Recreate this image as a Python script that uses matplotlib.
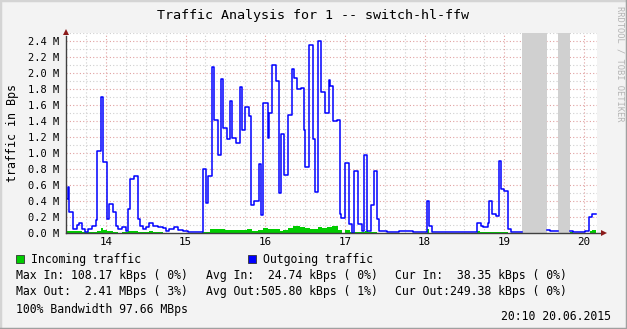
import numpy as np
import matplotlib
matplotlib.use("Agg")
import matplotlib.pyplot as plt
from matplotlib.lines import Line2D
from matplotlib.patches import Rectangle

# outgoing traffic: step edges (hours of day) and values (MBps), nan = unknown
out_t = [13.508, 13.521, 13.542, 13.584, 13.634, 13.667, 13.697, 13.738, 13.780, 13.822,
         13.872, 13.893, 13.935, 13.960, 14.010, 14.044, 14.086, 14.127, 14.157, 14.198,
         14.249, 14.282, 14.303, 14.357, 14.399, 14.428, 14.470, 14.500, 14.541, 14.596,
         14.658, 14.713, 14.751, 14.797, 14.855, 14.909, 14.972, 15.035, 15.213, 15.257,
         15.286, 15.328, 15.361, 15.411, 15.441, 15.474, 15.516, 15.558, 15.587, 15.629,
         15.679, 15.712, 15.742, 15.792, 15.825, 15.863, 15.917, 15.942, 15.976, 16.030,
         16.051, 16.089, 16.135, 16.177, 16.202, 16.240, 16.290, 16.332, 16.357, 16.402,
         16.449, 16.482, 16.503, 16.553, 16.595, 16.620, 16.666, 16.704, 16.745, 16.796,
         16.817, 16.854, 16.904, 16.942, 16.955, 17.005, 17.047, 17.093, 17.118, 17.164,
         17.210, 17.243, 17.281, 17.323, 17.364, 17.398, 17.431, 17.523, 17.674, 17.858,
         18.025, 18.050, 18.088, 18.661, 18.703, 18.736, 18.791, 18.812, 18.849, 18.895,
         18.937, 18.962, 19.000, 19.050, 19.088, 19.221, 19.535, 19.569, 19.615, 19.673,
         19.824, 19.866, 20.016, 20.066, 20.096, 20.146]
out_v = [0.43, 0.57, 0.26, 0.05, 0.10, 0.12, 0.05, 0.01, 0.05, 0.09,
         0.16, 1.02, 1.70, 0.89, 0.17, 0.36, 0.26, 0.09, 0.05, 0.07,
         0.03, 0.30, 0.68, 0.71, 0.17, 0.09, 0.05, 0.08, 0.13, 0.09,
         0.08, 0.06, 0.03, 0.05, 0.07, 0.04, 0.02, 0.01, 0.80, 0.37,
         0.71, 2.07, 1.41, 0.97, 1.92, 1.31, 1.17, 1.65, 1.19, 1.13,
         1.83, 1.29, 1.57, 1.46, 0.35, 0.40, 0.86, 0.22, 1.63, 1.19,
         1.50, 2.10, 1.90, 0.50, 1.24, 0.73, 1.48, 2.05, 1.94, 1.80,
         1.81, 1.29, 0.83, 2.35, 1.18, 0.51, 2.40, 1.76, 1.50, 1.91,
         1.84, 1.40, 1.41, 0.24, 0.19, 0.88, 0.11, 0.00, 0.77, 0.11,
         0.02, 0.97, 0.02, 0.35, 0.78, 0.17, 0.03, 0.01, 0.02, 0.01,
         0.40, 0.09, 0.01, 0.12, 0.09, 0.07, 0.13, 0.40, 0.24, 0.21,
         0.90, 0.55, 0.53, 0.05, 0.01, np.nan, 0.04, 0.03, 0.02, np.nan,
         0.02, 0.01, 0.02, 0.20, 0.24]

# incoming traffic
in_t = [13.508, 13.584, 13.697, 13.893, 13.935, 13.960, 14.010, 14.086, 14.157, 14.198,
        14.282, 14.399, 14.541, 14.596, 14.713, 15.211, 15.306, 15.369, 15.432, 15.495,
        15.557, 15.767, 15.829, 15.913, 15.976, 16.038, 16.185, 16.227, 16.289, 16.352,
        16.436, 16.498, 16.561, 16.666, 16.708, 16.770, 16.833, 16.917, 16.959, 17.000,
        17.063, 17.105, 17.251, 17.293, 17.356, 17.398, 18.025, 18.051, 18.661, 18.695,
        18.799, 18.862, 19.050, 19.221, 19.535, 19.673, 19.824, 19.866, 20.075, 20.096,
        20.146]
in_v = [0.025, 0.02, 0.01, 0.03, 0.067, 0.042, 0.025, 0.012, 0.003, 0.01,
        0.02, 0.012, 0.02, 0.01, 0.003, 0.012, 0.054, 0.046, 0.054, 0.038,
        0.038, 0.046, 0.025, 0.033, 0.058, 0.054, 0.025, 0.038, 0.058, 0.092,
        0.079, 0.067, 0.046, 0.07, 0.058, 0.075, 0.092, 0.033, 0.0, 0.033,
        0.01, 0.008, 0.02, 0.008, 0.017, 0.0, 0.05, 0.0, 0.02, 0.012,
        0.018, 0.012, 0.0, np.nan, 0.0, np.nan, 0.01, 0.0, 0.03, 0.038]

y_ticks = [0.0, 0.2, 0.4, 0.6, 0.8, 1.0, 1.2, 1.4, 1.6, 1.8, 2.0, 2.2, 2.4]
x_ticks = [14, 15, 16, 17, 18, 19, 20]

W, H = 627, 329
def fx(x): return x / W
def fy(y): return 1 - y / H

plt.rcParams['font.family'] = ['DejaVu Sans Mono']
fig = plt.figure(figsize=(W / 100, H / 100), dpi=100, facecolor='#f3f3f3')

ax = fig.add_axes([fx(66), fy(233), fx(597) - fx(66), fy(33) - fy(233)])
ax.set_facecolor('white')
ax.set_xlim(13.5, 13.5 + 531 / 79.7)
ax.set_ylim(0, 2.5)
for s in ax.spines.values():
    s.set_visible(False)

# grid
for v in np.arange(0.1, 2.55, 0.1):
    major = abs(v / 0.2 - round(v / 0.2)) < 1e-6
    ax.axhline(v, color='#e0a0a0' if major else '#cfcfcf', lw=0.8,
               ls=(0, (1, 2)), zorder=0)
for v in np.arange(13.75, 20.2, 0.25):
    major = abs(v - round(v)) < 1e-6
    ax.axvline(v, color='#e0a0a0' if major else '#cfcfcf', lw=0.8,
               ls=(0, (1, 2)), zorder=0)

# unknown periods
for i in range(len(out_v)):
    if np.isnan(out_v[i]):
        ax.axvspan(out_t[i], out_t[i + 1], color='#d0d0d0', lw=0, zorder=1)

ax.fill_between(in_t, in_v + [in_v[-1]], step='post', color='#00cc00', lw=0, zorder=2)
ax.plot(out_t, out_v + [out_v[-1]], drawstyle='steps-post', color='#0000ff', lw=1.1, zorder=3)

ax.set_xticks(x_ticks)
ax.set_xticklabels([str(t) for t in x_ticks], fontsize=7.8)
ax.set_yticks(y_ticks)
ax.set_yticklabels(['%.1f M' % t for t in y_ticks], fontsize=7.5)
ax.tick_params(length=0, pad=5)
ax.tick_params(axis='x', pad=3)
ax.set_ylabel('traffic in Bps', fontsize=8.4, labelpad=6)

# axis lines and arrows
fig.add_artist(Line2D([fx(66), fx(66)], [fy(233), fy(36)], color='#404040', lw=1))
fig.add_artist(Line2D([fx(66), fx(602)], [fy(233), fy(233)], color='#404040', lw=1))
fig.add_artist(Line2D([fx(66)], [fy(32)], marker='^', ms=5, color='#8b1a1a', mew=0))
fig.add_artist(Line2D([fx(604)], [fy(233)], marker='>', ms=5, color='#8b1a1a', mew=0))

fig.text(fx(313), fy(15), 'Traffic Analysis for 1 -- switch-hl-ffw', ha='center', va='center', fontsize=9.6)
fig.text(fx(620), fy(6), 'RRDTOOL / TOBI OETIKER', rotation=-90, ha='center', va='top',
         fontsize=6.3, color='#b4b4b4')

fs = 8.3
fig.add_artist(Rectangle((fx(16), fy(263)), 8 / W, 8 / H, transform=fig.transFigure,
                         facecolor='#00cc00', edgecolor='#333333', lw=0.6))
fig.text(fx(31), fy(259), 'Incoming traffic', va='center', fontsize=fs)
fig.add_artist(Rectangle((fx(248), fy(263)), 8 / W, 8 / H, transform=fig.transFigure,
                         facecolor='#0000ff', edgecolor='#333333', lw=0.6))
fig.text(fx(263), fy(259), 'Outgoing traffic', va='center', fontsize=fs)

rows = [
    (276, ['Max In: 108.17 kBps ( 0%)', 'Avg In:  24.74 kBps ( 0%)', 'Cur In:  38.35 kBps ( 0%)']),
    (292, ['Max Out:  2.41 MBps ( 3%)', 'Avg Out:505.80 kBps ( 1%)', 'Cur Out:249.38 kBps ( 0%)']),
]
for y, cells in rows:
    for x, s in zip([16, 206, 395], cells):
        fig.text(fx(x), fy(y), s, va='center', fontsize=fs)
fig.text(fx(16), fy(309), '100% Bandwidth 97.66 MBps', va='center', fontsize=fs)
fig.text(fx(611), fy(316), '20:10 20.06.2015', ha='right', va='center', fontsize=fs)

# frame
fig.add_artist(Line2D([0, 0, 1], [0, 1, 1], color='#d4d4d4', lw=2.5))
fig.add_artist(Line2D([0, 1, 1], [0, 0, 1], color='#a0a0a0', lw=2.5))

fig.savefig('out.png', dpi=100, facecolor=fig.get_facecolor())
